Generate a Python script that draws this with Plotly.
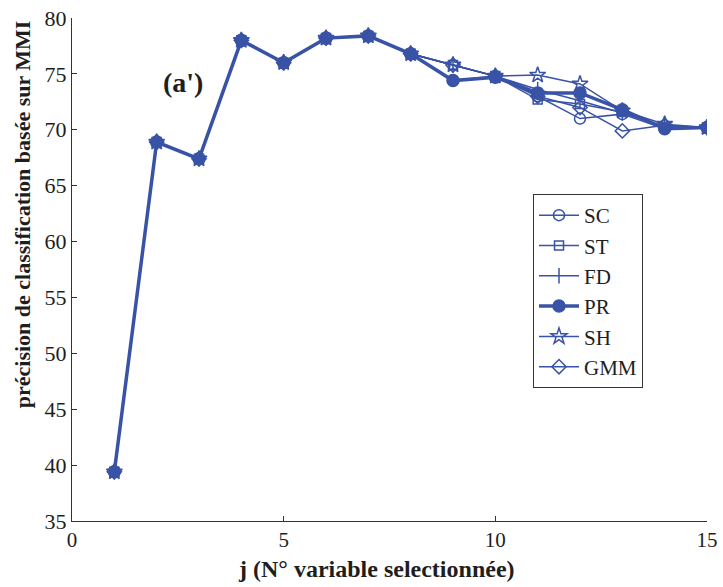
import plotly.graph_objects as go

x = list(range(1, 16))
common = [39.4, 68.9, 67.4, 78.0, 76.0, 78.2, 78.4, 76.8]
SC = common + [74.4, 74.8, 73.0, 71.0, 71.4, 70.1, 70.2]
ST = common + [75.8, 74.8, 72.7, 72.3, 71.6, 70.2, 70.2]
FD = common + [75.8, 74.8, 73.6, 72.6, 71.5, 70.3, 70.2]
PR = common + [74.4, 74.7, 73.3, 73.3, 71.8, 70.1, 70.2]
SH = common + [75.8, 74.8, 74.9, 74.1, 71.7, 70.5, 70.2]
GMM = common + [75.8, 74.8, 73.0, 72.0, 69.9, 70.4, 70.2]

series = [
    ("SC", SC, "circle-open", 11, 1.5),
    ("ST", ST, "square-open", 9, 1.5),
    ("FD", FD, "line-ns", 11, 1.5),
    ("PR", PR, "circle", 12, 3.5),
    ("SH", SH, "star-open", 12, 1.5),
    ("GMM", GMM, "diamond-open", 11, 1.5),
]

color = "#3953A6"
font = "Liberation Serif, Times New Roman, serif"
txt = "#1e1e1e"

fig = go.Figure()
for name, ys, sym, size, lw in series:
    fig.add_trace(go.Scatter(
        x=x, y=ys, name=name, mode="lines+markers",
        line=dict(color=color, width=lw),
        marker=dict(symbol=sym, size=size, color=color,
                    line=dict(color=color, width=1.5)),
    ))

fig.add_annotation(x=2.62, y=74.2, text="<b>(a')</b>", showarrow=False,
                   font=dict(family=font, size=28, color=txt))

fig.add_annotation(xref="paper", yref="paper", x=0.480, y=-0.095,
                   xanchor="center", yanchor="middle", showarrow=False,
                   text="<b>j (N° variable selectionnée)</b>",
                   font=dict(family=font, size=24, color=txt))
fig.add_annotation(xref="paper", yref="paper", x=-0.0787, y=0.610,
                   xanchor="center", yanchor="middle", showarrow=False,
                   textangle=-90,
                   text="<b>précision de classification basée sur MMI</b>",
                   font=dict(family=font, size=22, color=txt))

fig.update_layout(
    width=723, height=587,
    margin=dict(l=72, r=16, t=18, b=66),
    paper_bgcolor="white", plot_bgcolor="white",
    font=dict(family=font, size=22, color=txt),
    showlegend=True,
    legend=dict(x=0.726, y=0.65, xanchor="left", yanchor="top",
                bordercolor="#333", borderwidth=1, bgcolor="white",
                font=dict(family=font, size=21, color=txt),
                itemwidth=40, entrywidth=92, tracegroupgap=0),
    xaxis=dict(range=[0, 15], tickvals=[0, 5, 10, 15], showgrid=False,
               zeroline=False, showline=True, linecolor="#333", linewidth=1,
               ticks="inside", ticklen=5, tickcolor="#333", automargin=False,
               tickfont=dict(family=font, size=21, color=txt)),
    yaxis=dict(range=[35, 80], tickvals=list(range(35, 81, 5)), showgrid=False,
               zeroline=False, showline=True, linecolor="#333", linewidth=1,
               ticks="inside", ticklen=5, tickcolor="#333", automargin=False,
               tickfont=dict(family=font, size=22, color=txt)),
)

fig.write_html("out.html")
